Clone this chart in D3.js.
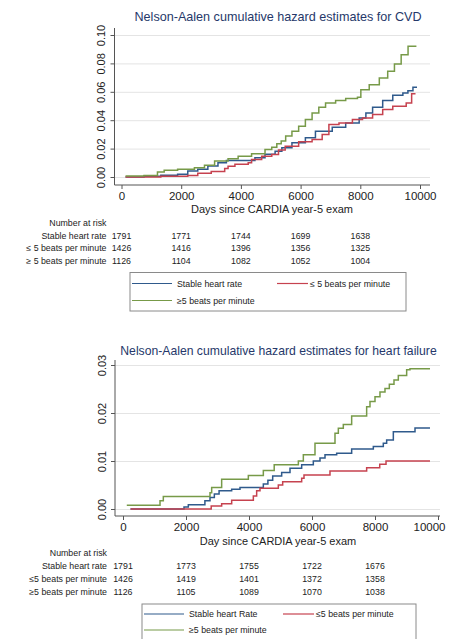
<!DOCTYPE html>
<html>
<head>
<meta charset="utf-8">
<script src="https://cdn.jsdelivr.net/npm/d3@7"></script>
<style>
  body { margin: 0; background: #fff; }
  svg { display: block; font-family: "Liberation Sans", Arial, sans-serif; }
</style>
</head>
<body>
<svg id="chart" width="449" height="639"></svg>
<script>
// ---- data ----
var xTicks = [0, 2000, 4000, 6000, 8000, 10000];
var riskDays = [0, 2000, 4000, 6000, 8000];
var cvdYTicks = [0, 0.02, 0.04, 0.06, 0.08, 0.10];
var hfYTicks = [0, 0.01, 0.02, 0.03];

// CVD: [day, cumulative hazard]
var cvdStable = [[135,0],[755,0.0005],[1318,0.0012],[1880,0.0019],[2220,0.0042],[2555,0.0054],[2893,0.0077],
  [3232,0.0101],[3514,0.0117],[4470,0.0136],[4808,0.0160],[5146,0.0182],[5372,0.0206],[5710,0.0241],
  [6160,0.0276],[6497,0.0323],[7060,0.0351],[7511,0.0381],[7962,0.0416],[8187,0.0451],[8412,0.0491],
  [8750,0.0538],[9088,0.0576],[9426,0.0592],[9595,0.0608],[9764,0.0632],[9900,0.0632]];
var cvdDown = [[135,0],[1318,0.0005],[2220,0.0010],[2555,0.0026],[3006,0.0038],[3457,0.0059],[3570,0.0075],
  [3800,0.0089],[4245,0.0101],[4358,0.0124],[4696,0.0147],[5034,0.0159],[5260,0.0190],[5484,0.0217],
  [5935,0.0248],[6385,0.0264],[6723,0.0299],[6948,0.0370],[7286,0.0381],[7736,0.0405],[8074,0.0416],
  [8412,0.0440],[8750,0.0475],[9088,0.0498],[9538,0.0522],[9720,0.0587],[9850,0.0587]];
var cvdUp = [[135,0.0007],[755,0.0010],[1205,0.0035],[1430,0.0047],[1880,0.0054],[2443,0.0066],[2780,0.0082],
  [3119,0.0112],[3570,0.0129],[3908,0.0147],[4358,0.0164],[4808,0.0194],[5034,0.0210],[5203,0.0234],
  [5350,0.0253],[5500,0.0288],[5710,0.0323],[5935,0.0358],[6160,0.0405],[6385,0.0451],[6610,0.0491],
  [6836,0.0522],[7173,0.0538],[7511,0.0552],[7905,0.0562],[8018,0.0615],[8299,0.0650],[8637,0.0697],
  [8918,0.0744],[9144,0.0796],[9369,0.0861],[9600,0.0920],[9880,0.0920]];

// Heart failure: [day, cumulative hazard]
var hfStable = [[238,0],[1937,0.0004],[2074,0.0009],[2600,0.0017],[2762,0.0024],[2900,0.0031],[3050,0.0038],
  [3450,0.0041],[3714,0.0045],[4455,0.0052],[4600,0.0060],[4752,0.0069],[5037,0.0076],[5302,0.0085],
  [5672,0.0092],[6042,0.0100],[6254,0.0106],[6413,0.0113],[6783,0.0116],[7259,0.0125],[7947,0.0130],
  [8264,0.0137],[8370,0.0144],[8582,0.0161],[9270,0.0169],[9746,0.0169]];
var hfDown = [[238,0],[2800,0.0006],[3132,0.0011],[3450,0.0018],[4138,0.0027],[4243,0.0038],[4349,0.0043],
  [4931,0.0050],[5069,0.0057],[5672,0.0064],[5746,0.0071],[6571,0.0079],[7735,0.0086],[8150,0.0093],
  [8350,0.0100],[9746,0.0100]];
var hfUp = [[120,0.0008],[1175,0.0017],[1280,0.0026],[2762,0.0034],[2815,0.0045],[3132,0.0062],[3979,0.0070],
  [4455,0.0080],[4800,0.0092],[5567,0.0100],[5725,0.0113],[6095,0.0137],[6730,0.0158],[6836,0.0168],
  [6994,0.0176],[7259,0.0194],[7735,0.0213],[7841,0.0224],[8000,0.0234],[8158,0.0244],[8317,0.0251],
  [8455,0.0260],[8603,0.0269],[8740,0.0278],[9005,0.0290],[9111,0.0292],[9746,0.0292]];

// numbers at risk
var cvdRiskStable = [1791, 1771, 1744, 1699, 1638];
var cvdRiskDown = [1426, 1416, 1396, 1356, 1325];
var cvdRiskUp = [1126, 1104, 1082, 1052, 1004];
var hfRiskStable = [1791, 1773, 1755, 1722, 1676];
var hfRiskDown = [1426, 1419, 1401, 1372, 1358];
var hfRiskUp = [1126, 1105, 1089, 1070, 1038];

var cvdRowLabels = ["Stable heart rate", "\u2264 5 beats per minute", "\u2265 5 beats per minute"];
var hfRowLabels = ["Stable heart rate", "\u22645 beats per minute", "\u22655 beats per minute"];
var cvdLegendLabels = ["Stable heart rate", "\u2264 5 beats per minute", "\u22655 beats per minute"];
var hfLegendLabels = ["Stable heart Rate", "\u22645 beats per minute", "\u22655 beats per minute"];

var colors = ["#2f5a8c", "#c6424f", "#779a48"];

var svg = d3.select("#chart");

// one Stata-like panel: plot + number-at-risk table + legend
function drawPanel(o) {
  var g = svg.append("g");
  var x = d3.scaleLinear().domain([0, 10000]).range(o.xRange);
  var y = d3.scaleLinear().domain(o.yDomain).range(o.yRange);

  // title
  g.append("text")
    .attr("x", o.titleX).attr("y", o.titleY)
    .attr("text-anchor", "middle")
    .attr("font-size", o.titleSize)
    .attr("fill", "#26386a")
    .text(o.title);

  // gridlines
  var grid = g.append("g")
    .attr("transform", `translate(${o.left},0)`)
    .call(d3.axisLeft(y).tickValues(o.yTicks).tickSize(-(o.right - o.left)).tickFormat(""));
  grid.select(".domain").remove();
  grid.selectAll("line").attr("stroke", "#e4e4e4");

  // axis lines
  g.append("line").attr("x1", o.left).attr("x2", o.left).attr("y1", o.top).attr("y2", o.bottom)
    .attr("stroke", "#555");
  g.append("line").attr("x1", o.left).attr("x2", o.right).attr("y1", o.bottom).attr("y2", o.bottom)
    .attr("stroke", "#555");

  // y axis
  var ya = g.append("g")
    .attr("transform", `translate(${o.left},0)`)
    .call(d3.axisLeft(y).tickValues(o.yTicks).tickSize(4).tickFormat(d3.format(".2f")));
  ya.select(".domain").remove();
  ya.selectAll("line").attr("stroke", "#555");
  ya.selectAll("text")
    .attr("x", null).attr("dy", null)
    .attr("transform", "translate(-9.5,0) rotate(-90)")
    .attr("text-anchor", "middle")
    .attr("font-size", 11)
    .attr("fill", "#222");

  // x axis
  var xa = g.append("g")
    .attr("transform", `translate(0,${o.bottom})`)
    .call(d3.axisBottom(x).tickValues(xTicks).tickSize(4).tickFormat(d3.format("d")));
  xa.select(".domain").remove();
  xa.selectAll("line").attr("stroke", "#555");
  xa.selectAll("text").attr("font-size", 11.5).attr("fill", "#222");
  if (o.lastLabelShift) {
    xa.selectAll("text").filter(d => d === 10000).attr("dx", o.lastLabelShift);
  }

  g.append("text")
    .attr("x", o.xTitleX).attr("y", o.xTitleY)
    .attr("text-anchor", "middle")
    .attr("font-size", 11)
    .attr("fill", "#222")
    .text(o.xTitle);

  // cumulative hazard step lines
  var line = d3.line()
    .x(d => x(d[0]))
    .y(d => y(d[1]))
    .curve(d3.curveStepAfter);
  o.series.forEach(function (s, i) {
    g.append("path")
      .datum(s)
      .attr("fill", "none")
      .attr("stroke", colors[i])
      .attr("stroke-width", 1.5)
      .attr("d", line);
  });

  // number at risk table
  g.append("text")
    .attr("x", o.labelX).attr("y", o.tableY)
    .attr("text-anchor", "end")
    .attr("font-size", 8.8)
    .attr("fill", "#222")
    .text("Number at risk");
  o.risk.forEach(function (row, r) {
    var ry = o.tableY + (r + 1) * o.rowGap;
    g.append("text")
      .attr("x", o.labelX).attr("y", ry)
      .attr("text-anchor", "end")
      .attr("font-size", 8.8)
      .attr("fill", "#222")
      .text(o.rowLabels[r]);
    g.selectAll(null)
      .data(row)
      .enter()
      .append("text")
      .attr("x", (d, i) => x(riskDays[i]))
      .attr("y", ry)
      .attr("text-anchor", "middle")
      .attr("font-size", 8.8)
      .attr("fill", "#222")
      .text(d => d);
  });

  // legend
  var L = o.legend;
  g.append("rect")
    .attr("x", L.x).attr("y", L.y)
    .attr("width", L.w).attr("height", L.h)
    .attr("fill", "#fff")
    .attr("stroke", "#8a8a8a")
    .attr("stroke-width", 1);
  var keys = [
    { x1: L.x + 2, x2: L.x + 42, tx: L.x + 47, ty: L.row1 },
    { x1: L.redX, x2: L.redX + 31, tx: L.redX + 33, ty: L.row1 },
    { x1: L.x + 2, x2: L.x + 42, tx: L.x + 47, ty: L.row2 }
  ];
  keys.forEach(function (k, i) {
    g.append("line")
      .attr("x1", k.x1).attr("x2", k.x2)
      .attr("y1", k.ty).attr("y2", k.ty)
      .attr("stroke", colors[i])
      .attr("stroke-width", 1.2);
    g.append("text")
      .attr("x", k.tx).attr("y", k.ty + 3)
      .attr("font-size", 8.8)
      .attr("fill", "#222")
      .text(o.legendLabels[i]);
  });
}

drawPanel({
  title: "Nelson-Aalen cumulative hazard estimates for CVD",
  titleX: 278, titleY: 21, titleSize: 12.6,
  xRange: [121.5, 420], yDomain: [0, 0.10], yRange: [177, 35], yTicks: cvdYTicks,
  left: 114.5, right: 430, top: 28, bottom: 185,
  xTitle: "Days since CARDIA year-5 exam", xTitleX: 272, xTitleY: 213,
  series: [cvdStable, cvdDown, cvdUp],
  labelX: 106.5, tableY: 226, rowGap: 12.7,
  risk: [cvdRiskStable, cvdRiskDown, cvdRiskUp],
  rowLabels: cvdRowLabels,
  legendLabels: cvdLegendLabels,
  legend: { x: 130, y: 272.5, w: 276, h: 38.5, row1: 283.5, row2: 300.5, redX: 277 }
});

drawPanel({
  title: "Nelson-Aalen cumulative hazard estimates for heart failure",
  titleX: 278.5, titleY: 355, titleSize: 12.2,
  xRange: [123, 438], yDomain: [0, 0.03], yRange: [509, 365], yTicks: hfYTicks,
  left: 115, right: 440, top: 360, bottom: 516,
  lastLabelShift: -9,
  xTitle: "Day since CARDIA year-5 exam", xTitleX: 278, xTitleY: 544.5,
  series: [hfStable, hfDown, hfUp],
  labelX: 107, tableY: 556, rowGap: 13,
  risk: [hfRiskStable, hfRiskDown, hfRiskUp],
  rowLabels: hfRowLabels,
  legendLabels: hfLegendLabels,
  legend: { x: 142, y: 604, w: 274, h: 45, row1: 614, row2: 630, redX: 283 }
});
</script>
</body>
</html>
